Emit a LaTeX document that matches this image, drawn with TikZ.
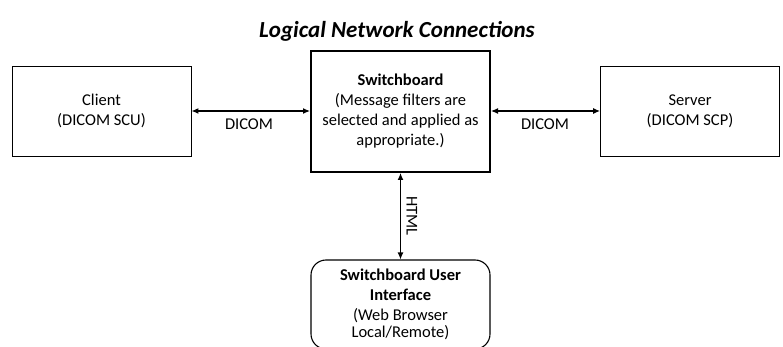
\documentclass[tikz,border=0pt]{standalone}
\usepackage{fontspec}
\setmainfont{Carlito}
\usetikzlibrary{arrows.meta}
\tikzset{
  plainbox/.style={draw, line width=0.9pt, minimum width=179pt, minimum height=90pt, inner sep=0pt, align=center},
  body/.style={font=\fontsize{16.5}{20}\selectfont},
  conn/.style={line width=1.2pt, {Latex[length=7pt,width=6pt]}-{Latex[length=7pt,width=6pt]}},
  lbl/.style={font=\fontsize{16.5}{20}\selectfont, inner sep=0pt}
}
\begin{document}
\begin{tikzpicture}[x=1pt,y=-1pt]
\useasboundingbox (0,0) rectangle (783,347);
\node[font=\fontsize{23}{27}\selectfont\bfseries\itshape, inner sep=0pt] (title) at (397,31) {Logical Network Connections};
\node[plainbox, body] (client) at (101.5,111) {Client\\(DICOM SCU)};
\node[plainbox, body, line width=2pt, minimum height=121pt] (sw) at (400.5,111.5) {\textbf{Switchboard}\\(Message filters are\\selected and applied as\\appropriate.)};
\node[plainbox, body] (server) at (690,111) {Server\\(DICOM SCP)};
\node[plainbox, body, rounded corners=15pt, line width=1.1pt, minimum height=89pt] (ui) at (400.5,304.5) {\textbf{Switchboard User}\\\textbf{Interface}\\(Web Browser\\[-3pt]Local/Remote)};
\draw[conn] (client.east) -- (client.east -| sw.west);
\draw[conn] (server.west) -- (server.west -| sw.east);
\draw[conn] (sw.south) -- (ui.north);
\node[lbl] (l1) at (249,124) {DICOM};
\node[lbl] (l2) at (545,124) {DICOM};
\node[lbl, rotate=-90] (l3) at (412,216) {HTML};
\end{tikzpicture}
\end{document}
